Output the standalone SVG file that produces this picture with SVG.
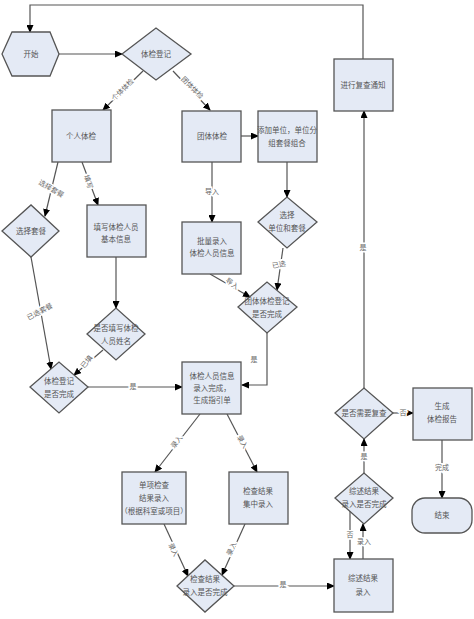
<svg xmlns="http://www.w3.org/2000/svg" width="474" height="619" viewBox="0 0 474 619">
<defs>
<marker id="arr" markerUnits="userSpaceOnUse" markerWidth="8" markerHeight="7" refX="7" refY="3.5" orient="auto">
<path d="M0,0 L8,3.5 L0,7 Z" fill="#000"/>
</marker>
</defs>
<style>
.n{fill:#e4eaf5;stroke:#555;stroke-width:1.3}
.t{font-family:"Liberation Serif","Noto Sans CJK SC",serif;font-size:7.5px;fill:#555;text-anchor:middle;dominant-baseline:central}
.c{fill:none;stroke:#555;stroke-width:1.2;marker-end:url(#arr)}
.l{font-family:"Liberation Serif","Noto Sans CJK SC",serif;font-size:7px;fill:#666;text-anchor:middle;dominant-baseline:central;stroke:#fff;stroke-width:3;paint-order:stroke}
</style>
<rect width="474" height="619" fill="#fff"/>
<g id="connectors">
<path class="c" d="M363,59 V5 H30 V32"/>
<path class="c" d="M59,54 H122"/>
<path class="c" d="M143,71 L103,110"/>
<path class="c" d="M173,71 L210,110"/>
<path class="c" d="M241,136 H258"/>
<path class="c" d="M58,162 L45,216"/>
<path class="c" d="M82,162 L98,205"/>
<path class="c" d="M212,162 V222"/>
<path class="c" d="M287,162 V197"/>
<path class="c" d="M283,248 L277,290"/>
<path class="c" d="M210,274 L250,297"/>
<path class="c" d="M267,333 V385 H242"/>
<path class="c" d="M116,257 V308"/>
<path class="c" d="M31,257 L51,369"/>
<path class="c" d="M103,350 L74,375"/>
<path class="c" d="M88,387 H182"/>
<path class="c" d="M200,414 L155,472"/>
<path class="c" d="M227,414 L257,472"/>
<path class="c" d="M164,524 L188,576"/>
<path class="c" d="M245,524 L222,575"/>
<path class="c" d="M234,586 H334"/>
<path class="c" d="M350,511 V559"/>
<path class="c" d="M363,559 V524"/>
<path class="c" d="M364,473 V439"/>
<path class="c" d="M393,413 H413"/>
<path class="c" d="M442,440 V498"/>
<path class="c" d="M364,388 V111"/>
<text class="l" transform="translate(123,90) rotate(-45)">个体体检</text>
<text class="l" transform="translate(192,88) rotate(45)">团体体检</text>
<text class="l" transform="translate(51,189) rotate(30)">选择套餐</text>
<text class="l" transform="translate(88,182) rotate(70)">填写</text>
<text class="l" x="212" y="192">导入</text>
<text class="l" transform="translate(279,265) rotate(-10)">已选</text>
<text class="l" transform="translate(232,284) rotate(35)">导入</text>
<text class="l" x="254" y="360">是</text>
<text class="l" transform="translate(40,312) rotate(-28)">已选套餐</text>
<text class="l" transform="translate(87,362) rotate(-50)">已填</text>
<text class="l" x="133" y="387">是</text>
<text class="l" transform="translate(177,442) rotate(-52)">录入</text>
<text class="l" transform="translate(242,442) rotate(60)">录入</text>
<text class="l" transform="translate(173,550) rotate(65)">录入</text>
<text class="l" transform="translate(232,549) rotate(-65)">录入</text>
<text class="l" x="283" y="585">是</text>
<text class="l" x="350" y="535">否</text>
<text class="l" x="364" y="542">录入</text>
<text class="l" x="364" y="457">是</text>
<text class="l" x="403" y="413">否</text>
<text class="l" x="442" y="468">完成</text>
<text class="l" x="363" y="248">是</text>
</g>
<g id="start"><polygon class="n" points="2,54 12,32 50,32 59,54 50,76 12,76"/><text class="t" x="31" y="54">开始</text></g>
<g id="register"><polygon class="n" points="122,54 156,28 191,54 156,80"/><text class="t" x="156" y="54">体检登记</text></g>
<g id="recheck"><rect class="n" x="334" y="59" width="59" height="52"/><text class="t" x="363" y="85">进行复查通知</text></g>
<g id="individual"><rect class="n" x="52" y="110" width="59" height="52"/><text class="t" x="81" y="136">个人体检</text></g>
<g id="group"><rect class="n" x="182" y="111" width="59" height="51"/><text class="t" x="212" y="136">团体体检</text></g>
<g id="addunit"><rect class="n" x="258" y="111" width="59" height="51"/><text class="t" x="287" y="130">添加单位，单位分</text><text class="t" x="287" y="143">组套餐组合</text></g>
<g id="selpkg"><polygon class="n" points="2,231 31,205 59,231 31,257"/><text class="t" x="31" y="231">选择套餐</text></g>
<g id="fillinfo"><rect class="n" x="87" y="205" width="59" height="52"/><text class="t" x="116" y="227">填写体检人员</text><text class="t" x="116" y="239">基本信息</text></g>
<g id="batch"><rect class="n" x="182" y="222" width="59" height="52"/><text class="t" x="212" y="241">批量录入</text><text class="t" x="212" y="253">体检人员信息</text></g>
<g id="selunit"><polygon class="n" points="258,222 287,197 317,222 287,248"/><text class="t" x="287" y="215">选择</text><text class="t" x="287" y="228">单位和套餐</text></g>
<g id="groupdone"><polygon class="n" points="238,307 267,282 297,307 267,333"/><text class="t" x="267" y="301">团体体检登记</text><text class="t" x="267" y="314">是否完成</text></g>
<g id="fillname"><polygon class="n" points="87,334 116,308 145,334 116,360"/><text class="t" x="116" y="328">是否填写体检</text><text class="t" x="116" y="341">人员姓名</text></g>
<g id="regdone"><polygon class="n" points="30,387 59,362 88,387 59,413"/><text class="t" x="59" y="381">体检登记</text><text class="t" x="59" y="394">是否完成</text></g>
<g id="info"><rect class="n" x="182" y="362" width="59" height="52"/><text class="t" x="212" y="376">体检人员信息</text><text class="t" x="212" y="388">录入完成，</text><text class="t" x="212" y="400">生成指引单</text></g>
<g id="single"><rect class="n" x="122" y="472" width="64" height="52"/><text class="t" x="154" y="485">单项检查</text><text class="t" x="154" y="498">结果录入</text><text class="t" x="154" y="511">（根据科室或项目）</text></g>
<g id="central"><rect class="n" x="229" y="472" width="59" height="52"/><text class="t" x="258" y="491">检查结果</text><text class="t" x="258" y="504">集中录入</text></g>
<g id="resultdone"><polygon class="n" points="177,586 205,560 234,586 205,612"/><text class="t" x="205" y="579">检查结果</text><text class="t" x="205" y="592">录入是否完成</text></g>
<g id="summary"><rect class="n" x="334" y="559" width="59" height="53"/><text class="t" x="363" y="578">综述结果</text><text class="t" x="363" y="592">录入</text></g>
<g id="sumdone"><polygon class="n" points="335,498 364,473 393,498 364,524"/><text class="t" x="364" y="491">综述结果</text><text class="t" x="364" y="504">录入是否完成</text></g>
<g id="needre"><polygon class="n" points="335,413 364,388 393,413 364,439"/><text class="t" x="364" y="413">是否需要复查</text></g>
<g id="report"><rect class="n" x="413" y="388" width="59" height="52"/><text class="t" x="442" y="406">生成</text><text class="t" x="442" y="419">体检报告</text></g>
<g id="end"><rect class="n" x="412" y="498" width="60" height="35" rx="13"/><text class="t" x="442" y="515">结束</text></g>
</svg>
